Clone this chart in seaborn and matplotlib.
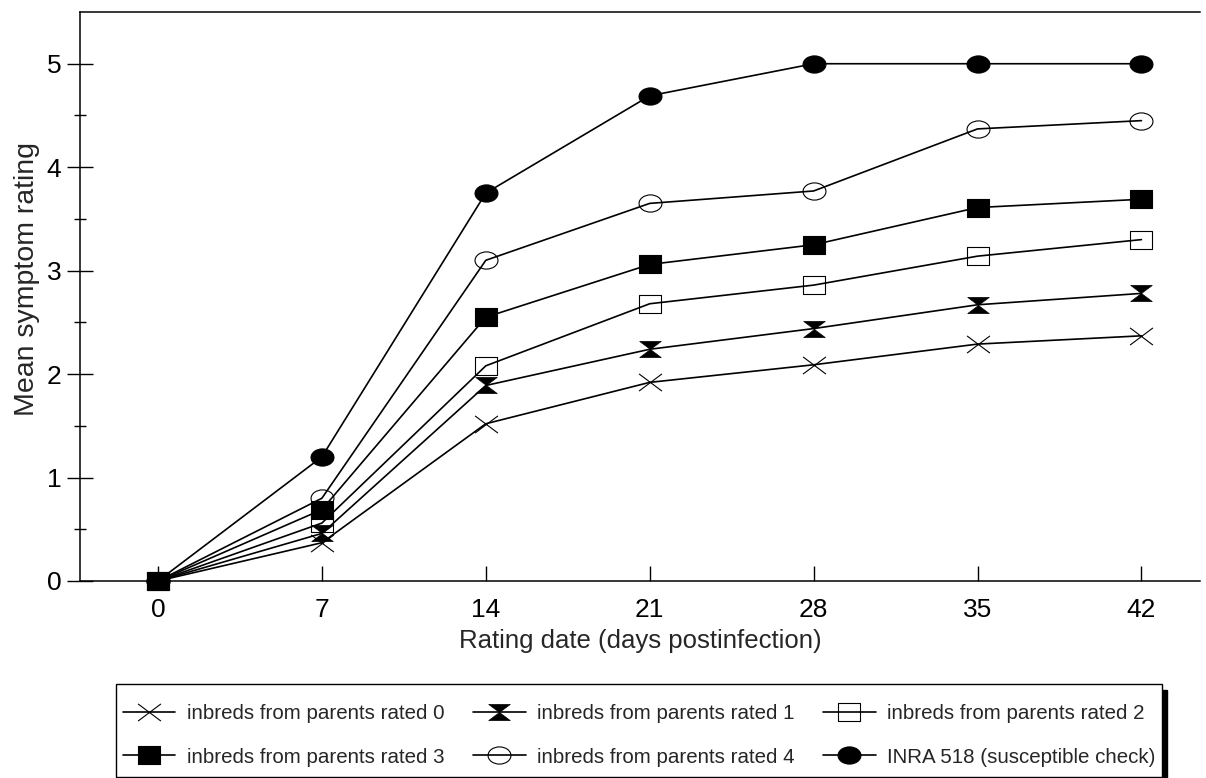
import matplotlib
matplotlib.use("Agg")
import matplotlib.pyplot as plt
import matplotlib.patches as mpatches
import seaborn as sns
import pandas as pd
from matplotlib.path import Path
from matplotlib.transforms import Affine2D

days = [0, 7, 14, 21, 28, 35, 42]
rated0 = [0, 0.37, 1.52, 1.92, 2.09, 2.29, 2.37]
rated1 = [0, 0.46, 1.89, 2.24, 2.44, 2.67, 2.78]
rated2 = [0, 0.56, 2.08, 2.68, 2.86, 3.14, 3.30]
rated3 = [0, 0.69, 2.55, 3.06, 3.25, 3.61, 3.69]
rated4 = [0, 0.80, 3.10, 3.65, 3.77, 4.37, 4.45]
inra518 = [0, 1.20, 3.75, 4.69, 5.0, 5.0, 5.0]

labels = [
    "inbreds from parents rated 0",
    "inbreds from parents rated 1",
    "inbreds from parents rated 2",
    "inbreds from parents rated 3",
    "inbreds from parents rated 4",
    "INRA 518 (susceptible check)",
]
series = [rated0, rated1, rated2, rated3, rated4, inra518]

sns.set_style("white")
plt.rcParams["font.family"] = ["Liberation Sans", "DejaVu Sans"]

A = 0.75  # marker height/width ratio
squash = Affine2D().scale(1, A)
ellipse = Path.unit_circle().transformed(squash)
rect = Path([(-1, -A), (1, -A), (1, A), (-1, A), (-1, -A)],
            [Path.MOVETO, Path.LINETO, Path.LINETO, Path.LINETO, Path.CLOSEPOLY])
hourglass = Path([(-1, A), (1, A), (-1, -A), (1, -A), (-1, A)],
                 [Path.MOVETO, Path.LINETO, Path.LINETO, Path.LINETO, Path.CLOSEPOLY])
cross = Path([(-1, -A), (1, A), (-1, A), (1, -A)],
             [Path.MOVETO, Path.LINETO, Path.MOVETO, Path.LINETO])

MS = 16.5
styles = [
    dict(marker=cross, markersize=MS, markerfacecolor="none", markeredgewidth=0.8),
    dict(marker=hourglass, markersize=MS - 1, markerfacecolor="black", markeredgewidth=0.5),
    dict(marker=rect, markersize=MS, markerfacecolor="none", markeredgewidth=0.8),
    dict(marker=rect, markersize=MS, markerfacecolor="black", markeredgewidth=0.8),
    dict(marker=ellipse, markersize=MS, markerfacecolor="none", markeredgewidth=0.8),
    dict(marker=ellipse, markersize=MS, markerfacecolor="black", markeredgewidth=0.8),
]
zorders = [3, 4, 5, 9, 6, 7]

W, H = 1206, 778
fig = plt.figure(figsize=(W / 100, H / 100), dpi=100)
ax = fig.add_axes([80 / W, 1 - 581 / H, 1120 / W, (581 - 12) / H])

for lab, vals, st, z in zip(labels, series, styles, zorders):
    df = pd.DataFrame({"day": days, "rating": vals})
    sns.lineplot(data=df, x="day", y="rating", ax=ax, color="black",
                 markeredgecolor="black", linewidth=1.2, label=lab,
                 clip_on=False, zorder=z, **st)

ax.set_xlim(-3.33, 44.5)
ax.set_ylim(0, 5.5)
ax.set_xticks(days)
ax.set_yticks([0, 1, 2, 3, 4, 5])
ax.set_yticks([0.5, 1.5, 2.5, 3.5, 4.5], minor=True)
ax.tick_params(axis="x", bottom=True, direction="in", length=11, width=1,
               labelsize=19, pad=12, colors="black")
ax.tick_params(axis="y", which="major", left=True, direction="inout", length=19,
               width=1, labelsize=19, pad=4, colors="black")
ax.tick_params(axis="y", which="minor", left=True, direction="inout", length=9, width=1,
               colors="black")
ax.set_xlabel("Rating date (days postinfection)", fontsize=18.5, labelpad=5)
ax.set_ylabel("Mean symptom rating", fontsize=20.5)
ax.yaxis.set_label_coords(-0.036, 0.53)

for s in ["left", "bottom", "top"]:
    ax.spines[s].set_visible(True)
    ax.spines[s].set_color("black")
    ax.spines[s].set_linewidth(1.1)
ax.spines["right"].set_visible(False)

# legend box with a drop shadow on the right
bx0, by0, bx1, by1 = 116, 684, 1162, 777
shadow = mpatches.Rectangle(((bx0 + 5) / W, 1 - (by1 + 6) / H),
                            (bx1 - bx0) / W, (by1 - by0) / H,
                            transform=fig.transFigure, facecolor="black",
                            edgecolor="black", zorder=1)
box = mpatches.Rectangle((bx0 / W, 1 - by1 / H), (bx1 - bx0) / W, (by1 - by0) / H,
                         transform=fig.transFigure, facecolor="white",
                         edgecolor="black", linewidth=1.0, zorder=2)
fig.patches.extend([shadow, box])

handles, labs = ax.get_legend_handles_labels()
ax.legend_.remove()
order = [0, 3, 1, 4, 2, 5]
leg = fig.legend([handles[i] for i in order], [labs[i] for i in order],
                 ncol=3, loc="upper left",
                 bbox_to_anchor=(123 / W, 1 - 704 / H),
                 fontsize=14.8, frameon=False,
                 handlelength=2.55, handletextpad=0.55, columnspacing=1.4,
                 borderpad=0, labelspacing=1.2, borderaxespad=0)
leg.set_zorder(5)

fig.savefig("out.png", dpi=100, facecolor="white")
